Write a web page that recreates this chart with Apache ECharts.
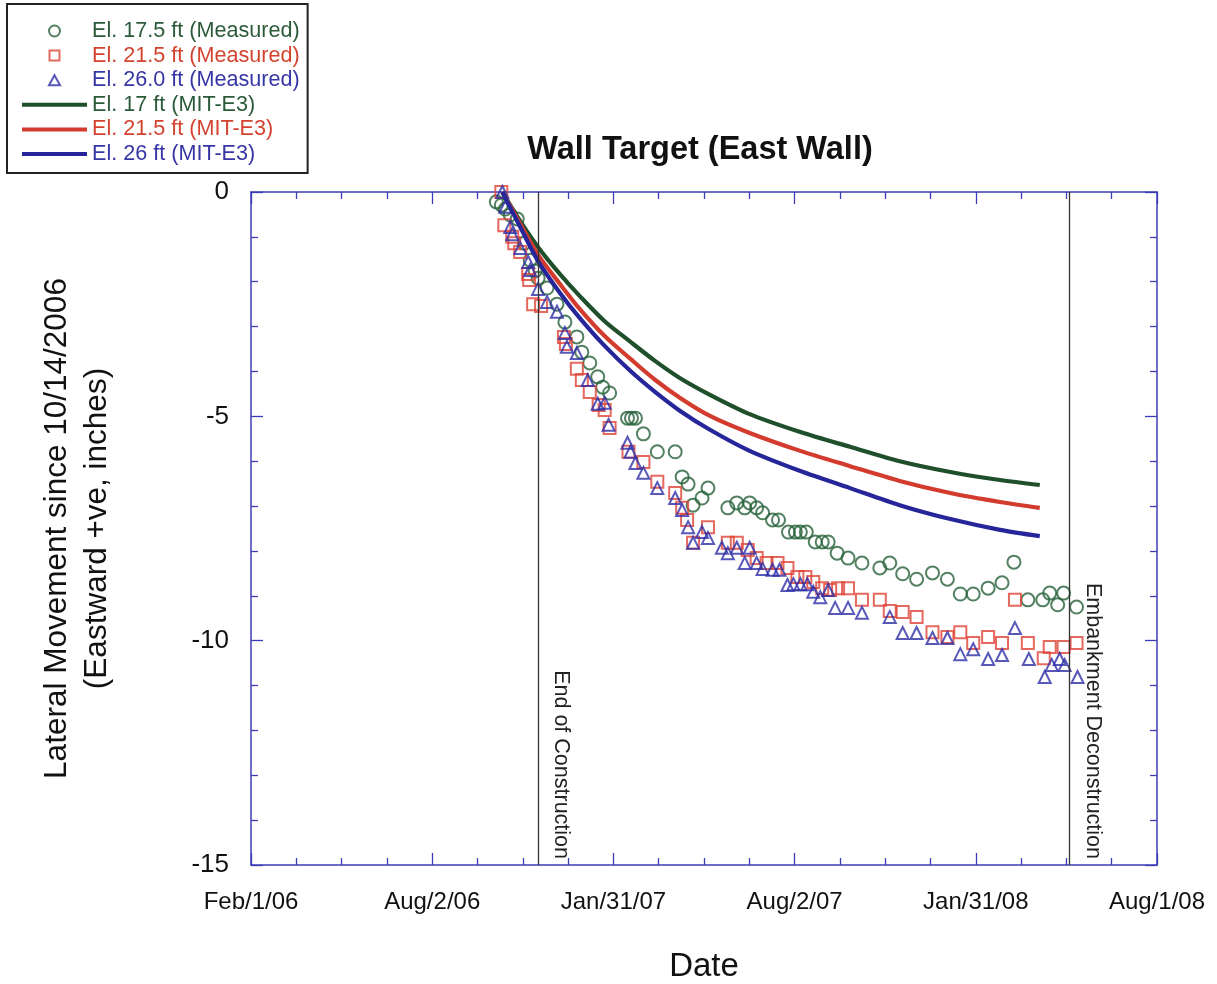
<!DOCTYPE html>
<html>
<head>
<meta charset="utf-8">
<title>Wall Target (East Wall)</title>
<script src="https://cdn.jsdelivr.net/npm/echarts@6/dist/echarts.min.js"></script>
<style>
  html, body { margin: 0; padding: 0; background: #ffffff; }
  #chart { width: 1217px; height: 984px; }
</style>
</head>
<body>
<div id="chart"></div>
<script>
// Time is counted in days from Feb 1, 2006 (left edge of the date axis).
const X_SPAN = 912;                 // Feb 1, 2006 -> Aug 1, 2008
const X_STEP = X_SPAN / 5;          // one labelled tick every ~half year
const xTickLabels = ['Feb/1/06', 'Aug/2/06', 'Jan/31/07', 'Aug/2/07', 'Jan/31/08', 'Aug/1/08'];
const yTickLabels = ['0', '-5', '-10', '-15'];

// Measured lateral movement (inches), El. 17.5 ft
const el175Days = [247,252,256,261,268,275,281,286,289,298,308,316,328,333,341,349,354,361,379,383,387,395,409,427,434,440,445,454,460,480,489,497,502,509,515,525,531,541,548,553,559,568,575,581,590,601,615,633,643,656,670,686,701,714,727,742,756,768,782,797,804,812,818,831];
const el175Meas = [-0.22,-0.29,-0.38,-0.51,-0.60,-1.14,-1.52,-1.76,-1.92,-2.14,-2.50,-2.90,-3.23,-3.57,-3.81,-4.12,-4.35,-4.48,-5.04,-5.04,-5.04,-5.39,-5.79,-5.79,-6.35,-6.51,-6.98,-6.82,-6.60,-7.04,-6.93,-7.04,-6.93,-7.04,-7.15,-7.31,-7.31,-7.58,-7.58,-7.58,-7.58,-7.80,-7.80,-7.80,-8.05,-8.16,-8.27,-8.38,-8.27,-8.51,-8.63,-8.49,-8.63,-8.96,-8.96,-8.83,-8.71,-8.25,-9.09,-9.09,-8.94,-9.20,-8.94,-9.25];

// Measured lateral movement (inches), El. 21.5 ft
const el215Days = [252,255,263,265,271,279,280,284,292,315,317,328,333,341,350,356,361,380,395,409,427,434,439,445,460,480,489,500,509,519,530,540,550,558,566,575,583,591,601,615,633,643,656,670,686,701,714,727,742,756,769,782,798,804,818,831];
const el215Meas = [0,-0.74,-1.00,-1.14,-1.34,-1.83,-1.96,-2.50,-2.54,-3.23,-3.39,-3.94,-4.19,-4.46,-4.75,-4.86,-5.26,-5.79,-6.02,-6.46,-6.71,-7.04,-7.31,-7.82,-7.47,-7.82,-7.82,-7.98,-8.16,-8.27,-8.27,-8.38,-8.58,-8.58,-8.69,-8.83,-8.87,-8.83,-8.83,-9.09,-9.09,-9.34,-9.36,-9.47,-9.81,-9.92,-9.81,-10.05,-9.92,-10.05,-9.09,-10.05,-10.39,-10.14,-10.14,-10.05];

// Measured lateral movement (inches), El. 26.0 ft
const el26Days = [253,256,261,263,271,279,281,289,298,308,316,318,328,339,349,356,360,379,382,387,395,409,427,434,440,445,454,460,474,480,489,497,502,509,515,525,532,540,546,553,560,566,573,581,588,601,615,643,656,670,686,701,714,727,742,756,769,783,799,806,814,819,832];
const el26Meas = [0,-0.33,-0.78,-0.94,-1.25,-1.56,-1.74,-2.16,-2.45,-2.67,-3.14,-3.45,-3.59,-4.19,-4.72,-4.70,-5.19,-5.59,-5.79,-6.04,-6.26,-6.60,-6.82,-7.09,-7.47,-7.82,-7.58,-7.71,-7.93,-8.05,-7.93,-8.27,-7.93,-8.27,-8.40,-8.42,-8.42,-8.76,-8.74,-8.74,-8.74,-8.91,-9.03,-8.87,-9.27,-9.27,-9.38,-9.47,-9.83,-9.83,-9.94,-9.94,-10.30,-10.19,-10.41,-10.32,-9.72,-10.41,-10.81,-10.54,-10.41,-10.54,-10.81];

// MIT-E3 predictions (inches)
const modelDays  = [253,271,289,311,331,356,382,407,432,462,502,553,603,653,704,754,794];
const el17Model  = [0,-0.65,-1.23,-1.83,-2.32,-2.88,-3.34,-3.77,-4.15,-4.52,-4.95,-5.35,-5.68,-6.00,-6.24,-6.42,-6.53];
const el215Model = [0,-0.71,-1.40,-2.05,-2.61,-3.21,-3.72,-4.19,-4.59,-4.99,-5.37,-5.77,-6.11,-6.44,-6.71,-6.91,-7.04];
const el26Model  = [0,-0.78,-1.54,-2.25,-2.81,-3.43,-3.99,-4.46,-4.88,-5.30,-5.77,-6.22,-6.60,-6.98,-7.29,-7.53,-7.67];

// Construction events
const eventDays = [289, 824];
const eventLabels = ['End of Construction', 'Embankment Deconstruction'];

const names = [
  'El. 17.5 ft (Measured)', 'El. 21.5 ft (Measured)', 'El. 26.0 ft (Measured)',
  'El. 17 ft (MIT-E3)', 'El. 21.5 ft (MIT-E3)', 'El. 26 ft (MIT-E3)'
];

const FONT = '"Liberation Sans", Arial, Helvetica, sans-serif';
const AXIS_BLUE = '#3c3cb6';
const GREEN_M = '#27613a', RED_M = '#df4337', BLUE_M = '#2e2ea8';
const GREEN_L = '#1f4f2b', RED_L = '#d23b2e', BLUE_L = '#26269a';
const TEXT_GREEN = '#2b5a39', TEXT_RED = '#d4432f', TEXT_BLUE = '#3636a6';

// Legend glyphs for the survey markers: a small shape centred in the
// 65 x 11 key box (the leading moves span the full box so nothing is stretched).
const KEY_ICONS = [
  'circle',
  'path://M0,0 M65,11 M27.5,0.5 L37.5,0.5 L37.5,10.5 L27.5,10.5 Z',
  'path://M0,0 M65,11 M32.5,0.5 L38,10.5 L27,10.5 Z'
];

const zip = (xs, ys) => xs.map((x, i) => [x, ys[i]]);

function measured(name, symbol, size, color, xs, ys) {
  return {
    type: 'scatter', name, symbol, symbolSize: size, symbolKeepAspect: true,
    itemStyle: { color: 'rgba(255,255,255,0)', borderColor: color, borderWidth: 2 },
    data: zip(xs, ys), z: 2
  };
}
function model(name, color, xs, ys) {
  return {
    type: 'line', name, color, smooth: 0.3, symbol: 'none', showSymbol: false,
    lineStyle: { color, width: 4.2 }, itemStyle: { color },
    data: zip(xs, ys), z: 3
  };
}

function frameAxis(extra) {
  return Object.assign({
    type: 'value',
    axisLine: { show: true, onZero: false, lineStyle: { color: AXIS_BLUE, width: 1.5 } },
    axisTick: { show: true, inside: true, length: 12, lineStyle: { color: AXIS_BLUE, width: 1.3 } },
    splitLine: { show: false },
    minorSplitLine: { show: false }
  }, extra);
}
function minor(n) {
  return { show: true, splitNumber: n, length: 7, lineStyle: { color: AXIS_BLUE, width: 1.3 } };
}

// legend entries: hollow markers for surveys, plain strokes for the model
const legendData = names.map((name, i) => {
  const color = [TEXT_GREEN, TEXT_RED, TEXT_BLUE][i % 3];
  const item = { name, textStyle: { color } };
  if (i < 3) {
    item.icon = KEY_ICONS[i];
  } else {
    item.itemStyle = { opacity: 0 };
    item.lineStyle = { width: 4 };
  }
  return item;
});

const chart = echarts.init(document.getElementById('chart'), null, { renderer: 'canvas' });

chart.setOption({
  animation: false,
  backgroundColor: '#ffffff',
  textStyle: { fontFamily: FONT },
  title: {
    text: 'Wall Target (East Wall)',
    left: 695, top: 129, textAlign: 'center',
    textStyle: { fontFamily: FONT, fontSize: 32.5, fontWeight: 'bold', color: '#111' }
  },
  legend: {
    orient: 'vertical', left: 7, top: 4,
    padding: [16, 8, 8, 13],
    borderColor: '#222', borderWidth: 2,
    itemWidth: 65, itemHeight: 11, itemGap: 2.6,
    symbolKeepAspect: true,
    selectedMode: false,
    textStyle: { fontFamily: FONT, fontSize: 21.6 },
    data: legendData
  },
  grid: {
    left: 251, top: 192, width: 906, height: 673,
    containLabel: false, outerBoundsMode: 'none'
  },
  xAxis: [
    frameAxis({
      position: 'bottom', min: 0, max: X_SPAN, interval: X_STEP,
      minorTick: minor(4),
      axisLabel: {
        show: true, margin: 25, fontFamily: FONT, fontSize: 24, color: '#111',
        formatter: v => xTickLabels[Math.round(v / X_STEP)] || ''
      },
      name: 'Date', nameLocation: 'middle', nameGap: 85,
      nameTextStyle: { fontFamily: FONT, fontSize: 33, color: '#111' }
    }),
    frameAxis({
      position: 'top', min: 0, max: X_SPAN, interval: X_STEP,
      minorTick: minor(4),
      axisLabel: { show: false }
    })
  ],
  yAxis: [
    frameAxis({
      position: 'left', min: -15, max: 0, interval: 5,
      minorTick: minor(5),
      axisLabel: {
        show: true, margin: 22, fontFamily: FONT, fontSize: 26, color: '#111',
        formatter: v => yTickLabels[Math.round(-v / 5)] || ''
      },
      name: 'Lateral Movement since 10/14/2006\n(Eastward +ve, inches)',
      nameLocation: 'middle', nameGap: 134,
      nameTextStyle: { fontFamily: FONT, fontSize: 31.5, lineHeight: 40, color: '#111' }
    }),
    frameAxis({
      position: 'right', min: -15, max: 0, interval: 5,
      minorTick: minor(5),
      axisLabel: { show: false }
    })
  ],
  series: [
    measured(names[0], 'circle', 13, GREEN_M, el175Days, el175Meas),
    measured(names[1], 'rect', 12, RED_M, el215Days, el215Meas),
    measured(names[2], 'triangle', 12, BLUE_M, el26Days, el26Meas),
    model(names[3], GREEN_L, modelDays, el17Model),
    model(names[4], RED_L, modelDays, el215Model),
    model(names[5], BLUE_L, modelDays, el26Model),
    {
      type: 'line', name: 'events', data: [], silent: true,
      markLine: {
        silent: true, symbol: 'none', animation: false,
        lineStyle: { color: '#333', width: 1.3, type: 'solid' },
        label: {
          show: true, position: 'insideEndTop', formatter: '{b}',
          fontFamily: FONT, fontSize: 21.5, color: '#222', distance: [6, 12]
        },
        data: eventDays.map((d, i) => [
          { name: eventLabels[i], coord: [d, 0] },
          { coord: [d, -15] }
        ])
      }
    }
  ]
});
</script>
</body>
</html>
